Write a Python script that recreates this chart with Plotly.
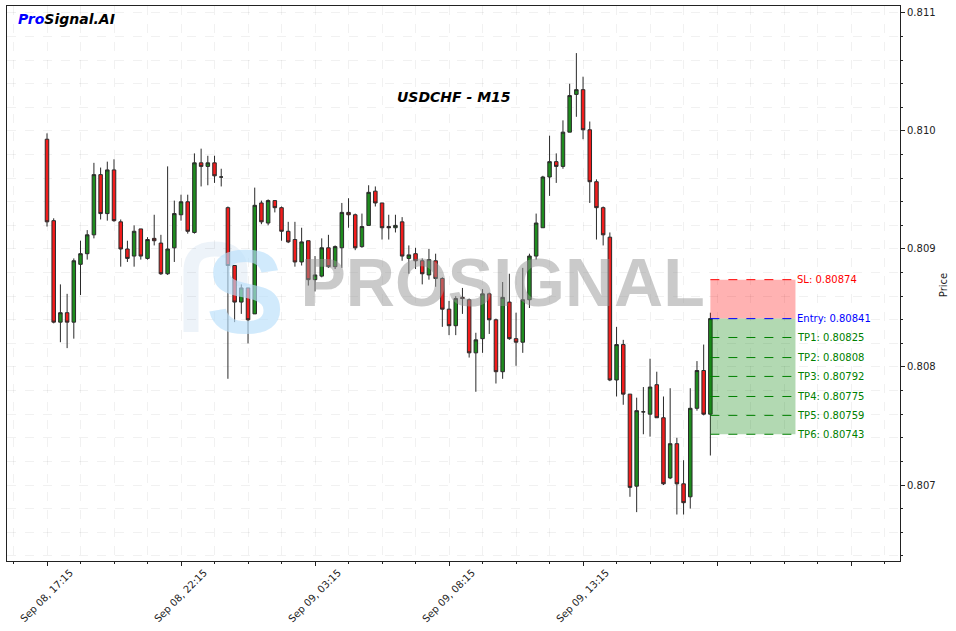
import plotly.graph_objects as go

# ---------------- data ----------------
idx = list(range(100))
opens = [0.80993, 0.80924, 0.80838, 0.80846, 0.80838, 0.80887, 0.80896, 0.80912, 0.80963, 0.80930,
         0.80967, 0.80923, 0.80900, 0.80894, 0.80917, 0.80892, 0.80909, 0.80905, 0.80879, 0.80901,
         0.80929, 0.80940, 0.80914, 0.80973, 0.80970, 0.80973, 0.80961, 0.80935, 0.80886, 0.80855,
         0.80867, 0.80845, 0.80939, 0.80922, 0.80941, 0.80935, 0.80915, 0.80908, 0.80889, 0.80907,
         0.80874, 0.80877, 0.80901, 0.80885, 0.80901, 0.80931, 0.80929, 0.80902, 0.80920, 0.80949,
         0.80939, 0.80919, 0.80918, 0.80923, 0.80892, 0.80896, 0.80890, 0.80878, 0.80890, 0.80875,
         0.80849, 0.80835, 0.80859, 0.80857, 0.80812, 0.80824, 0.80862, 0.80840, 0.80796, 0.80855,
         0.80824, 0.80821, 0.80857, 0.80894, 0.80918, 0.80961, 0.80974, 0.80970, 0.80999, 0.81031,
         0.81035, 0.81001, 0.80957, 0.80935, 0.80910, 0.80789, 0.80819, 0.80777, 0.80699, 0.80762,
         0.80760, 0.80785, 0.80757, 0.80706, 0.80735, 0.80701, 0.80690, 0.80765, 0.80797, 0.80760]
highs = [0.80998, 0.80926, 0.80870, 0.80862, 0.80892, 0.80907, 0.80916, 0.80973, 0.80969, 0.80974,
         0.80976, 0.80925, 0.80907, 0.80920, 0.80917, 0.80910, 0.80929, 0.80912, 0.80970, 0.80941,
         0.80946, 0.80946, 0.80981, 0.80985, 0.80979, 0.80979, 0.80968, 0.80936, 0.80886, 0.80870,
         0.80867, 0.80952, 0.80941, 0.80942, 0.80941, 0.80936, 0.80923, 0.80923, 0.80918, 0.80907,
         0.80894, 0.80909, 0.80912, 0.80903, 0.80939, 0.80943, 0.80930, 0.80930, 0.80954, 0.80953,
         0.80939, 0.80929, 0.80929, 0.80927, 0.80903, 0.80901, 0.80892, 0.80900, 0.80896, 0.80876,
         0.80856, 0.80860, 0.80867, 0.80858, 0.80829, 0.80866, 0.80863, 0.80841, 0.80872, 0.80879,
         0.80846, 0.80884, 0.80896, 0.80930, 0.80962, 0.80996, 0.80981, 0.81009, 0.81040, 0.81066,
         0.81046, 0.81008, 0.80959, 0.80936, 0.80914, 0.80834, 0.80823, 0.80777, 0.80774, 0.80783,
         0.80807, 0.80796, 0.80775, 0.80782, 0.80740, 0.80721, 0.80782, 0.80805, 0.80819, 0.80846]
lows = [0.80919, 0.80837, 0.80821, 0.80816, 0.80824, 0.80861, 0.80891, 0.80909, 0.80925, 0.80924,
        0.80923, 0.80885, 0.80889, 0.80885, 0.80891, 0.80891, 0.80903, 0.80878, 0.80878, 0.80889,
        0.80924, 0.80913, 0.80913, 0.80953, 0.80954, 0.80956, 0.80953, 0.80790, 0.80838, 0.80845,
        0.80820, 0.80845, 0.80921, 0.80920, 0.80931, 0.80907, 0.80905, 0.80885, 0.80886, 0.80869,
        0.80864, 0.80876, 0.80884, 0.80883, 0.80884, 0.80918, 0.80899, 0.80901, 0.80920, 0.80936,
        0.80908, 0.80908, 0.80914, 0.80890, 0.80879, 0.80883, 0.80870, 0.80874, 0.80868, 0.80834,
        0.80827, 0.80827, 0.80845, 0.80808, 0.80779, 0.80812, 0.80828, 0.80786, 0.80790, 0.80823,
        0.80801, 0.80812, 0.80850, 0.80891, 0.80918, 0.80945, 0.80956, 0.80968, 0.80999, 0.81012,
        0.80993, 0.80939, 0.80908, 0.80903, 0.80788, 0.80775, 0.80768, 0.80690, 0.80677, 0.80743,
        0.80741, 0.80757, 0.80700, 0.80705, 0.80675, 0.80675, 0.80680, 0.80763, 0.80759, 0.80725]
closes = [0.80923, 0.80838, 0.80846, 0.80838, 0.80890, 0.80896, 0.80912, 0.80963, 0.80930, 0.80967,
          0.80924, 0.80900, 0.80892, 0.80915, 0.80894, 0.80908, 0.80907, 0.80879, 0.80900, 0.80930,
          0.80940, 0.80915, 0.80973, 0.80970, 0.80973, 0.80962, 0.80961, 0.80886, 0.80855, 0.80867,
          0.80840, 0.80937, 0.80923, 0.80941, 0.80935, 0.80915, 0.80906, 0.80889, 0.80906, 0.80874,
          0.80878, 0.80901, 0.80885, 0.80902, 0.80931, 0.80929, 0.80901, 0.80919, 0.80948, 0.80939,
          0.80918, 0.80918, 0.80920, 0.80894, 0.80895, 0.80890, 0.80879, 0.80891, 0.80875, 0.80849,
          0.80835, 0.80858, 0.80858, 0.80812, 0.80823, 0.80862, 0.80840, 0.80796, 0.80859, 0.80824,
          0.80821, 0.80857, 0.80894, 0.80922, 0.80961, 0.80974, 0.80970, 0.80999, 0.81030, 0.81035,
          0.81001, 0.80957, 0.80935, 0.80912, 0.80789, 0.80819, 0.80777, 0.80698, 0.80763, 0.80762,
          0.80783, 0.80757, 0.80701, 0.80735, 0.80701, 0.80685, 0.80765, 0.80797, 0.80760, 0.80841]

tick_positions = [0, 20, 40, 60, 80]
tick_labels = ["Sep 08, 17:15", "Sep 08, 22:15", "Sep 09, 03:15", "Sep 09, 08:15", "Sep 09, 13:15"]

entry = 0.80841
stop_loss = 0.80874
tp_levels = [0.80825, 0.80808, 0.80792, 0.80775, 0.80759, 0.80743]
tp_names = ["TP1", "TP2", "TP3", "TP4", "TP5", "TP6"]
signal_start = 99
signal_end = 111.7

title_text = "USDCHF - M15"
# ---------------- figure ----------------
FONT = "DejaVu Sans"
fig = go.Figure()

# watermark (decoration) behind the candles
fig.add_trace(go.Scatter(x=[29.6], y=[0.808534], mode="text", text=["<b>S</b>"],
                         textfont=dict(family="Liberation Sans", size=118, color="rgba(185,222,250,0.65)"),
                         hoverinfo="skip", showlegend=False))
fig.add_trace(go.Scatter(x=[68.0], y=[0.808665], mode="text", text=["<b>PROSIGNAL</b>"],
                         textfont=dict(family="Liberation Sans", size=68, color="rgba(150,150,150,0.5)"),
                         hoverinfo="skip", showlegend=False))

fig.add_trace(go.Candlestick(
    x=idx, open=opens, high=highs, low=lows, close=closes,
    increasing=dict(line=dict(color="#2a2a2a", width=1), fillcolor="#1e8c1e"),
    decreasing=dict(line=dict(color="#2a2a2a", width=1), fillcolor="#f21c1c"),
    whiskerwidth=0, showlegend=False, hoverinfo="skip"))

shapes = []
# faint arch of the watermark logo (paper coordinates)
shapes.append(dict(type="path", xref="paper", yref="paper", layer="below",
                   path="M 0.2060,0.4126 L 0.2060,0.5225 Q 0.2060,0.5621 0.2329,0.5621 "
                        "Q 0.2609,0.5621 0.2609,0.5225 L 0.2609,0.4955",
                   line=dict(color="rgba(215,228,242,0.45)", width=15)))
shapes.append(dict(type="rect", xref="x", yref="y", x0=signal_start, x1=signal_end,
                   y0=entry, y1=stop_loss, fillcolor="rgba(255,0,0,0.3)", line=dict(width=0)))
shapes.append(dict(type="rect", xref="x", yref="y", x0=signal_start, x1=signal_end,
                   y0=tp_levels[-1], y1=entry, fillcolor="rgba(0,128,0,0.3)", line=dict(width=0)))
shapes.append(dict(type="line", xref="x", yref="y", x0=signal_start, x1=signal_end,
                   y0=stop_loss, y1=stop_loss, line=dict(color="red", width=1, dash="dash")))
shapes.append(dict(type="line", xref="x", yref="y", x0=signal_start, x1=signal_end,
                   y0=entry, y1=entry, line=dict(color="blue", width=1, dash="dash")))
for tp in tp_levels:
    shapes.append(dict(type="line", xref="x", yref="y", x0=signal_start, x1=signal_end,
                       y0=tp, y1=tp, line=dict(color="green", width=1, dash="dash")))

annotations = []
annotations.append(dict(x=signal_end, y=stop_loss, xref="x", yref="y", xanchor="left", yanchor="middle",
                        text=f"SL: {stop_loss:.5f}", showarrow=False, font=dict(family=FONT, size=10, color="red")))
annotations.append(dict(x=signal_end, y=entry, xref="x", yref="y", xanchor="left", yanchor="middle",
                        text=f"Entry: {entry:.5f}", showarrow=False, font=dict(family=FONT, size=10, color="blue")))
for name, tp in zip(tp_names, tp_levels):
    annotations.append(dict(x=signal_end, y=tp, xref="x", yref="y", xanchor="left", yanchor="middle",
                            text=f"{name}: {tp:.5f}", showarrow=False, font=dict(family=FONT, size=10, color="green")))
for pos, lab in zip(tick_positions, tick_labels):
    annotations.append(dict(x=pos, y=-0.063, xref="x", yref="paper", xanchor="center", yanchor="middle",
                            text=lab, textangle=-45, showarrow=False, font=dict(family=FONT, size=10, color="#222")))
annotations.append(dict(x=0.5, y=0.836, xref="paper", yref="paper", xanchor="center", yanchor="middle",
                        text=f"<b><i>{title_text}</i></b>", showarrow=False,
                        font=dict(family=FONT, size=14, color="black")))
annotations.append(dict(x=0.01, y=0.977, xref="paper", yref="paper", xanchor="left", yanchor="middle",
                        text="<b><i><span style='color:blue'>Pro</span>Signal.AI</i></b>", showarrow=False,
                        font=dict(family=FONT, size=14, color="black")))
annotations.append(dict(x=1.0482, y=0.497, xref="paper", yref="paper", xanchor="center", yanchor="middle",
                        text="Price", textangle=-90, showarrow=False, font=dict(family=FONT, size=10, color="#222")))

grid = "rgba(0,0,0,0.055)"
fig.update_layout(
    width=956, height=631, autosize=False,
    margin=dict(l=7, r=56, t=6, b=70),
    paper_bgcolor="white", plot_bgcolor="white",
    shapes=shapes, annotations=annotations, showlegend=False,
    boxgap=0.25,
    xaxis=dict(range=[-5.97, 127.3], tickmode="linear", tick0=0, dtick=20, showticklabels=False,
               ticks="outside", ticklen=4, tickcolor="#222",
               showgrid=True, gridcolor=grid, griddash="dash", gridwidth=1,
               minor=dict(dtick=5, tick0=0, ticks="outside", ticklen=2, tickcolor="#222",
                          showgrid=True, gridcolor=grid, griddash="dash"),
               showline=True, linecolor="#222", linewidth=1, mirror=True, zeroline=False,
               rangeslider=dict(visible=False), fixedrange=True),
    yaxis=dict(range=[0.806356, 0.811059], side="right", tickmode="linear", tick0=0.807, dtick=0.001,
               tickformat=".3f", ticks="outside", ticklen=4, tickcolor="#222",
               tickfont=dict(family=FONT, size=10, color="#222"),
               showgrid=True, gridcolor=grid, griddash="dash", gridwidth=1,
               minor=dict(dtick=0.0002, tick0=0.807, ticks="outside", ticklen=2, tickcolor="#222",
                          showgrid=True, gridcolor=grid, griddash="dash"),
               showline=True, linecolor="#222", linewidth=1, mirror=True, zeroline=False, fixedrange=True),
)

fig.write_html("out.html", config={"displayModeBar": False},
               post_script="document.body.style.margin='0px';")
